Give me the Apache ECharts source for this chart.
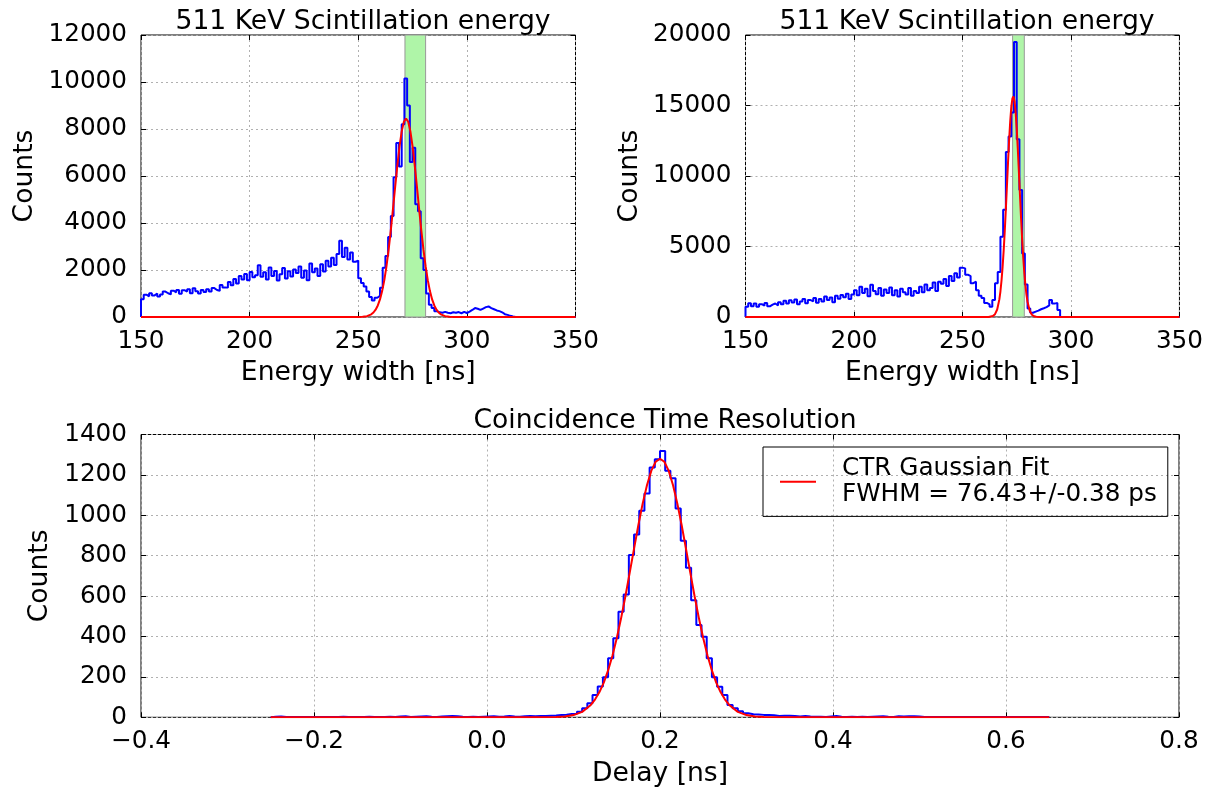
<!DOCTYPE html>
<html>
<head>
<meta charset="utf-8">
<script src="https://cdn.jsdelivr.net/npm/echarts@6/dist/echarts.min.js"></script>
<style>
html,body{margin:0;padding:0;background:#fff;}
#chart{width:1206px;height:790px;}
</style>
</head>
<body>
<div id="chart"></div>
<script>
// ---------- DATA ----------
const titleEnergy = '511 KeV Scintillation energy';
const titleCTR = 'Coincidence Time Resolution';
const legendText = 'CTR Gaussian Fit\nFWHM = 76.43+/-0.38 ps';

const energyTicks = [150, 200, 250, 300, 350];
const ctrTicks = [-0.4, 0.8];

// energy histograms: bins from 150 ns, 1.25 ns wide
const energyStart = 150;
const energyBinWidth = 1.25;

const leftCounts = [
  760, 950, 880, 1010, 920, 1000, 870, 960,
  1080, 1010, 960, 1120, 1050, 1150, 990, 1140,
  1080, 1180, 1010, 1220, 1100, 1000, 1150, 1060,
  1180, 1090, 1230, 1150, 1110, 1360, 1260, 1250,
  1490, 1350, 1620, 1430, 1750, 1600, 1830, 1560,
  1920, 1690, 1780, 2200, 1710, 1900, 1600, 2110,
  1740, 1960, 1550, 1820, 2080, 1640, 1950, 1720,
  2020, 1870, 2150, 1670, 1980, 1560, 2280, 1900,
  2060, 1750, 2240, 1940, 2390, 2150, 2520, 2210,
  2680, 3250, 2550, 2950, 2450, 2750, 2350, 2400,
  1650, 1450, 1300, 1080, 850, 700, 820, 900,
  1250, 2100, 2600, 3400, 4300, 5950, 7400, 6400,
  8200, 10150, 9000, 6600, 7200, 4800, 4500, 2500,
  2000, 1000, 520, 380, 250, 200, 180, 220,
  180, 160, 200, 180, 210, 160, 220, 170,
  230, 300, 380, 350, 300, 360, 420, 450,
  380, 330, 280, 250, 200, 120, 90, 50,
  20, 0, 0, 0, 0, 0, 0, 0,
  0, 0, 0, 0, 0, 0, 0, 0,
  0, 0, 0, 0, 0, 0, 0, 0
];

const rightCounts = [
  720, 980, 760, 950, 720, 910, 800, 1000, 760, 880, 960, 820,
  1050, 900, 1150, 960, 1180, 1020, 1250, 900, 1100, 1280, 980, 1200,
  1120, 1350, 1010, 1280, 1100, 1450, 1200, 1380, 1050, 1500, 1300, 1560,
  1400, 1650, 1280, 1600,
  1900, 1550, 2150, 1700, 2000, 1480, 2280, 1850, 1620, 2050, 1500, 1950,
  1700, 2100, 1550, 1900, 1450, 2000, 1750, 1600, 2050, 1500, 1850, 1700,
  2150, 1750, 2300, 1900, 2050, 2450, 1850, 2500,
  2350, 2700, 2200, 2900, 2550, 3100, 2800, 3500,
  3450, 3000, 2900, 2400, 2500, 1900, 1500, 1350, 1000, 900, 720, 1200, 2400, 3200, 5700, 7600,
  11700, 12800, 14500, 19500, 12600, 9000, 4500, 2300,
  600, 300, 380, 450, 550, 620, 700, 820, 1200, 950, 1000, 500,
  0, 0, 0, 0, 0, 0, 0, 0, 0, 0, 0, 0,
  0, 0, 0, 0, 0, 0, 0, 0, 0, 0, 0, 0,
  0, 0, 0, 0, 0, 0, 0, 0, 0, 0, 0, 0,
  0, 0, 0, 0, 0, 0, 0, 0
];

// shaded selection windows [from, to] in ns
const leftWindow = [271.5, 281.0];
const rightWindow = [273.1, 278.5];

// fitted curves [x, counts]
const leftFit = [
  [150, 0], [246, 0], [250, 2], [252, 10], [254, 36], [256, 113], [257, 191], [258, 312],
  [259, 491], [260, 748], [261, 1102], [262, 1569], [263, 2161], [264, 2877], [265, 3704],
  [266, 4610], [267, 5547], [268, 6455], [269, 7262], [270, 7900], [271, 8309], [272, 8450],
  [273, 8309], [274, 7900], [275, 7262], [276, 6455], [277, 5547], [278, 4610], [279, 3704],
  [280, 2877], [281, 2161], [282, 1569], [283, 1102], [284, 748], [285, 491], [286, 312],
  [287, 191], [288, 113], [290, 36], [292, 10], [294, 2], [298, 0], [350, 0]
];
const rightFit = [
  [150, 0], [260, 0], [262, 5], [264, 67], [265, 201], [266, 532], [267, 1249], [267.5, 1825],
  [268, 2587], [268.5, 3553], [269, 4737], [269.5, 6119], [270, 7667], [270.5, 9313],
  [271, 10967], [271.5, 12523], [272, 13866], [272.5, 14887], [273, 15495], [273.5, 15640],
  [274, 15306], [274.5, 14524], [275, 13364], [275.5, 11920], [276, 10313], [276.5, 8648],
  [277, 7032], [277.5, 5542], [278, 4241], [278.5, 3142], [279, 2258], [279.5, 1574],
  [280, 1063], [281, 443], [282, 163], [283, 53], [284, 15], [286, 0], [350, 0]
];

// CTR histogram: bins from -0.25 ns, 0.006 ns wide
const delayStart = -0.25;
const delayBinWidth = 0.006;
const ctrCounts = [
  3, 4, 2, 1, 2, 1, 2, 1, 1, 2,
  1, 2, 1, 3, 1, 2, 1, 2, 3, 1,
  2, 1, 3, 2, 4, 5, 2, 3, 4, 5,
  3, 2, 4, 5, 6, 5, 3, 2, 3, 2,
  3, 4, 5, 3, 4, 6, 4, 3, 5, 6,
  5, 6, 7, 8, 9, 11, 13, 16, 18, 28,
  45, 69, 110, 152, 198, 292, 391, 523, 608, 803,
  905, 1022, 1108, 1237, 1278, 1318, 1220, 1183, 1034, 874,
  740, 580, 457, 399, 292, 198, 151, 110, 61, 45,
  30, 20, 15, 14, 12, 12, 10, 7, 8, 8,
  6, 4, 6, 4, 3, 3, 2, 4, 6, 3,
  2, 3, 2, 3, 2, 3, 4, 5, 3, 2,
  5, 4, 5, 5, 4, 2, 1, 2, 1, 2,
  1, 1, 2, 1, 1, 2, 1, 1, 2, 1,
  1, 2, 1, 1, 2, 1, 1, 2, 1, 1
];
const ctrFit = [
  [-0.25, 0], [0.05, 0], [0.08, 1], [0.09, 4], [0.10, 11], [0.11, 27], [0.12, 61], [0.125, 89],
  [0.13, 125], [0.135, 172], [0.14, 232], [0.145, 305], [0.15, 391], [0.155, 490], [0.16, 599],
  [0.165, 716], [0.17, 835], [0.175, 952], [0.18, 1059], [0.185, 1150], [0.19, 1221],
  [0.195, 1265], [0.2, 1280], [0.205, 1265], [0.21, 1221], [0.215, 1150], [0.22, 1059],
  [0.225, 952], [0.23, 835], [0.235, 716], [0.24, 599], [0.245, 490], [0.25, 391],
  [0.255, 305], [0.26, 232], [0.265, 172], [0.27, 125], [0.275, 89], [0.28, 61], [0.29, 27],
  [0.30, 11], [0.31, 4], [0.32, 1], [0.35, 0], [0.65, 0]
];

// ---------- BUILD ----------
function stepData(start, width, counts) {
  const d = [[start, 0]];
  counts.forEach((c, i) => d.push([+(start + i * width).toFixed(6), c]));
  const end = +(start + counts.length * width).toFixed(6);
  d.push([end, counts[counts.length - 1]]);
  d.push([end, 0]);
  return d;
}

const FONT = 'DejaVu Sans';
const TICK_FS = 24.7;
const NAME_FS = 26.6;
const gridLine = { show: true, lineStyle: { color: '#b0b0b0', width: 1, type: [2, 3] } };
const tickIn = { show: true, inside: true, length: 5, lineStyle: { color: '#000', width: 1 } };
const labelStyle = { fontFamily: FONT, fontSize: TICK_FS, color: '#000' };
const nameStyle = { fontFamily: FONT, fontSize: NAME_FS, color: '#000' };
const noLine = { show: false, onZero: false };

function xMain(gi, min, max, interval, name, fmt) {
  return {
    type: 'value', gridIndex: gi, min, max, interval, position: 'bottom',
    name, nameLocation: 'middle', nameGap: 43, nameTextStyle: nameStyle,
    axisLine: noLine, axisTick: tickIn, splitLine: gridLine,
    axisLabel: Object.assign({ margin: 12, formatter: fmt }, labelStyle)
  };
}
function xTop(gi, min, max, interval) {
  return {
    type: 'value', gridIndex: gi, min, max, interval, position: 'top',
    axisLine: noLine, axisTick: tickIn, splitLine: { show: false },
    axisLabel: { show: false }
  };
}
function yMain(gi, max, interval, gap) {
  return {
    type: 'value', gridIndex: gi, min: 0, max, interval, position: 'left',
    name: 'Counts', nameLocation: 'middle', nameGap: gap, nameTextStyle: nameStyle,
    axisLine: noLine, axisTick: tickIn, splitLine: gridLine,
    axisLabel: Object.assign({ margin: 14, formatter: v => String(v) }, labelStyle)
  };
}
function yRight(gi, max, interval) {
  return {
    type: 'value', gridIndex: gi, min: 0, max, interval, position: 'right',
    axisLine: noLine, axisTick: tickIn, splitLine: { show: false },
    axisLabel: { show: false }
  };
}

const energyFmt = v => String(v);
const ctrFmt = v => v.toFixed(1).replace('-', '\u2212');

const gridBase = { show: true, borderColor: '#000', borderWidth: 1, backgroundColor: 'transparent', containLabel: false };
const titleStyle = { fontFamily: FONT, fontSize: NAME_FS, fontWeight: 'normal', color: '#000' };

const option = {
  animation: false,
  backgroundColor: '#fff',
  textStyle: { fontFamily: FONT },
  title: [
    { text: titleEnergy, left: 358, top: 4, textAlign: 'center', textStyle: titleStyle },
    { text: titleEnergy, left: 962, top: 4, textAlign: 'center', textStyle: titleStyle },
    { text: titleCTR, left: 660, top: 403, textAlign: 'center', textStyle: titleStyle }
  ],
  grid: [
    Object.assign({ left: 141, top: 35, width: 434.5, height: 282 }, gridBase),
    Object.assign({ left: 745.5, top: 35, width: 434, height: 282 }, gridBase),
    Object.assign({ left: 141, top: 434.5, width: 1038, height: 282.8 }, gridBase)
  ],
  xAxis: [
    xMain(0, energyTicks[0], energyTicks[energyTicks.length - 1], 50, 'Energy width [ns]', energyFmt),
    xMain(1, energyTicks[0], energyTicks[energyTicks.length - 1], 50, 'Energy width [ns]', energyFmt),
    xMain(2, ctrTicks[0], ctrTicks[1], 0.2, 'Delay [ns]', ctrFmt),
    xTop(0, energyTicks[0], energyTicks[energyTicks.length - 1], 50),
    xTop(1, energyTicks[0], energyTicks[energyTicks.length - 1], 50),
    xTop(2, ctrTicks[0], ctrTicks[1], 0.2)
  ],
  yAxis: [
    yMain(0, 12000, 2000, 102),
    yMain(1, 20000, 5000, 102),
    yMain(2, 1400, 200, 87),
    yRight(0, 12000, 2000),
    yRight(1, 20000, 5000),
    yRight(2, 1400, 200)
  ],
  legend: {
    data: [{ name: 'ctrfit', icon: 'rect' }],
    left: 763, top: 447,
    orient: 'vertical',
    borderColor: '#000', borderWidth: 1,
    padding: [9, 11, 9, 17],
    itemWidth: 36, itemHeight: 2,
    formatter: () => legendText,
    textStyle: { fontFamily: FONT, fontSize: TICK_FS, color: '#000', lineHeight: 25.7, padding: [0, 0, 0, 21] }
  },
  series: [
    { type: 'line', xAxisIndex: 0, yAxisIndex: 0, data: [], z: 1, silent: true,
      markArea: { silent: true, itemStyle: { color: '#aff5a8', borderColor: '#999', borderWidth: 1 },
        data: [[{ xAxis: leftWindow[0] }, { xAxis: leftWindow[1] }]] } },
    { type: 'line', xAxisIndex: 1, yAxisIndex: 1, data: [], z: 1, silent: true,
      markArea: { silent: true, itemStyle: { color: '#aff5a8', borderColor: '#999', borderWidth: 1 },
        data: [[{ xAxis: rightWindow[0] }, { xAxis: rightWindow[1] }]] } },
    { name: 'lefthist', type: 'line', xAxisIndex: 0, yAxisIndex: 0, step: 'end', symbol: 'none', z: 2,
      data: stepData(energyStart, energyBinWidth, leftCounts), lineStyle: { color: '#0000ff', width: 2 }, clip: true },
    { name: 'righthist', type: 'line', xAxisIndex: 1, yAxisIndex: 1, step: 'end', symbol: 'none', z: 2,
      data: stepData(energyStart, energyBinWidth, rightCounts), lineStyle: { color: '#0000ff', width: 2 }, clip: true },
    { name: 'ctrhist', type: 'line', xAxisIndex: 2, yAxisIndex: 2, step: 'end', symbol: 'none', z: 2,
      data: stepData(delayStart, delayBinWidth, ctrCounts), lineStyle: { color: '#0000ff', width: 2 }, clip: true },
    { name: 'leftfit', type: 'line', xAxisIndex: 0, yAxisIndex: 0, symbol: 'none', z: 3,
      data: leftFit, lineStyle: { color: '#ff0000', width: 2 }, clip: true },
    { name: 'rightfit', type: 'line', xAxisIndex: 1, yAxisIndex: 1, symbol: 'none', z: 3,
      data: rightFit, lineStyle: { color: '#ff0000', width: 2 }, clip: true },
    { name: 'ctrfit', type: 'line', xAxisIndex: 2, yAxisIndex: 2, symbol: 'none', z: 3,
      data: ctrFit, lineStyle: { color: '#ff0000', width: 2 }, itemStyle: { color: '#ff0000' }, clip: true }
  ]
};

const chart = echarts.init(document.getElementById('chart'), null, { renderer: 'canvas' });
chart.setOption(option);
</script>
</body>
</html>
